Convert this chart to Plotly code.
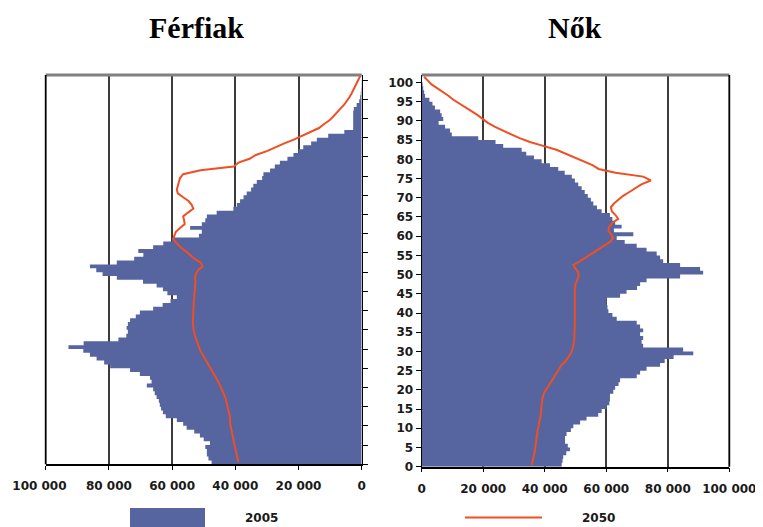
import plotly.graph_objects as go

# ---------------- data (thousands of persons) ----------------
ages = list(range(101))            # 2005 values, one per single year of age
ages_2050 = list(range(102))       # 2050 line points

men_2005 = [47.5, 48.5, 49, 49, 49.5, 48, 50, 51.2, 53, 55.4,
            56.5, 58.5, 62, 62.9, 63.5, 63.9, 64.2, 64.9, 65.5, 66,
            68, 66.5, 67, 70.2, 73.3, 79.6, 81.5, 83.9, 86, 88.1,
            92.8, 88, 77, 74.5, 74, 74.4, 74, 73.3, 71.5, 70.2,
            66, 63, 60.5, 58.5, 61.5, 62.9, 64.9, 69.2, 77.5, 82,
            84, 86, 77.5, 72, 69.1, 70.7, 66, 62.8, 60, 51.5,
            50.6, 54.3, 50.6, 49.5, 49, 45.9, 40.6, 39.5, 38.5, 37.4,
            36.4, 35, 34.3, 33.2, 31.5, 31.1, 29, 27.5, 25.9, 23.5,
            21.6, 20, 18.5, 16, 14.2, 10.6, 5.5, 2.7, 2.7, 2.7,
            2.7, 2.7, 2.5, 1.6, 0.8, 0.5, 0.3, 0.2, 0.1, 0.1,
            0]

men_2050 = [39, 39.3, 39.6, 40, 40.1, 40.4, 40.6, 40.9, 41.2, 41.4,
            41.6, 41.7, 41.7, 42, 42.3, 42.5, 42.7, 43.2, 43.8, 44.2,
            44.8, 45.4, 46, 46.8, 47.5, 48.2, 48.8, 49.6, 50.4, 51,
            51.5, 52, 52.4, 52.8, 53.1, 53.3, 53.4, 53.4, 53.4, 53.3,
            53.3, 53.2, 53.1, 53, 52.9, 52.8, 52.7, 52.6, 52.8, 52.5,
            51.8, 50.4, 51, 53, 54.3, 56, 57.3, 58.5, 59.6, 59.3,
            58.8, 57.5, 56, 56.2, 56.5, 55, 53.3, 53.8, 54.8, 56.5,
            58.2, 58.5, 58.2, 57.8, 57.5, 56.5, 51, 40.5, 39, 35.5,
            33.5, 30, 27.5, 24.5, 21.5, 19, 16, 13.5, 12, 10.2,
            9, 8, 6.8, 5.6, 4.7, 3.9, 3.2, 2.6, 2, 1.4,
            0.7, 0.2]

women_2005 = [45.5, 45.8, 46, 47, 48.2, 47.5, 46.6, 46.6, 47.1, 48.5,
              49.3, 51.5, 53.6, 57.4, 58.5, 60.1, 61, 61.2, 61.2, 62.3,
              62.9, 64, 64.5, 69.9, 71, 73.1, 77.5, 79, 81.9, 88.3,
              85, 72, 71.5, 72, 71, 72, 71, 69.9, 63.4, 62,
              60.7, 60.4, 60.1, 60.1, 64.5, 66.6, 70, 71, 73.1, 84,
              91.5, 90.5, 84, 78.5, 77.5, 76.4, 73.1, 69.9, 66, 63.4,
              68.8, 62.5, 65, 62.9, 62, 61.2, 58.5, 57, 55.8, 55,
              54, 53, 52, 50.9, 49.8, 48.8, 46.5, 44.4, 41.7, 39,
              36.5, 34, 32.5, 26.5, 24, 18.4, 9.8, 9.2, 7.6, 5.5,
              7, 6.5, 6, 4.3, 3.5, 2.5, 1.1, 0.8, 0.5, 0.3,
              0.1]

women_2050 = [35.8, 36.1, 36.4, 36.7, 36.9, 37, 37.1, 37.3, 37.5, 37.7,
              38, 38.2, 38.5, 38.7, 38.8, 38.9, 39, 39.2, 39.5, 40,
              40.8, 41.6, 42.5, 43.3, 44, 44.7, 45.5, 46.8, 47.8, 48.5,
              49, 49.3, 49.5, 49.6, 49.7, 49.8, 49.8, 49.8, 49.8, 49.8,
              49.8, 49.8, 49.7, 49.7, 49.6, 49.7, 49.8, 50, 50.5, 51,
              50.9, 50, 49.3, 51.5, 53.5, 55.5, 57.5, 59.5, 61.2, 62.3,
              61.5, 60.7, 61, 62, 63.9, 63, 61.8, 61.5, 62.5, 64,
              65.5, 67.5, 69.5, 71.4, 74.5, 72, 63, 57.5, 55.5, 52.7,
              49.5, 46.6, 43.8, 39.5, 35.2, 31.8, 29, 26.3, 23.7, 21.5,
              19.9, 18.2, 16.3, 14.2, 12, 10.3, 8.8, 7, 5, 3.2,
              2, 0.8]

x_tickvals = [0, 20000, 40000, 60000, 80000, 100000]
x_ticktext = ["0", "20 000", "40 000", "60 000", "80 000", "100 000"]
age_tickvals = list(range(0, 101, 5))
age_ticktext = [str(a) for a in age_tickvals]

titles = ["Férfiak", "Nők"]
legend_labels = ["2005", "2050"]

# ---------------- styles ----------------
BLUE = "#56659f"
RED = "#f04e23"
OFF = 8                       # page body margin added by the html page
W, H = 763 - OFF, 527 - OFF
TICKFONT = dict(family="DejaVu Sans", size=12, color="#1a1a1a", weight="bold")
NBSP = "\u00a0"


def px_x(p):
    return (p - OFF) / W


def px_y(p):
    return 1 - (p - OFF) / H


def step_trace(values, xa, ya, name):
    # one filled step outline per single-year age band [a, a+1]
    ys = ages + [ages[-1] + 1]
    xs = [v * 1000 for v in values] + [values[-1] * 1000]
    return go.Scatter(x=xs, y=ys, mode="lines", line=dict(color=BLUE, width=0, shape="vh"),
                      fill="tozerox", fillcolor=BLUE, xaxis=xa, yaxis=ya,
                      showlegend=False, name=name, hoverinfo="skip")


fig = go.Figure()

# Men (left panel)
fig.add_trace(step_trace(men_2005, "x", "y", legend_labels[0]))
fig.add_trace(go.Scatter(
    y=[a + 0.5 for a in ages_2050], x=[v * 1000 for v in men_2050],
    mode="lines", line=dict(color=RED, width=2),
    xaxis="x", yaxis="y", showlegend=False, name=legend_labels[1]))

# Women (right panel)
fig.add_trace(step_trace(women_2005, "x2", "y2", legend_labels[0]))
fig.add_trace(go.Scatter(
    y=[a + 0.5 for a in ages_2050], x=[v * 1000 for v in women_2050],
    mode="lines", line=dict(color=RED, width=2),
    xaxis="x2", yaxis="y2", showlegend=False, name=legend_labels[1]))

common_x = dict(
    tickvals=x_tickvals, showgrid=True,
    gridcolor="#3c3c3c", gridwidth=1.5, zeroline=False,
    showline=True, linecolor="black", linewidth=1.5,
    ticks="outside", ticklen=4, tickcolor="black", tickwidth=1.2,
    tickfont=TICKFONT, ticklabelstandoff=6, automargin=False, fixedrange=True)

common_y = dict(
    tickvals=age_tickvals, ticktext=age_ticktext, showgrid=False,
    zeroline=False, showline=True, linecolor="black", linewidth=1.2,
    ticks="outside", ticklen=5, tickcolor="black", tickwidth=1.2,
    tickfont=TICKFONT, automargin=False, fixedrange=True)

# left panel: outermost label sits a little inside the page edge
left_ticktext = x_ticktext[:-1] + [x_ticktext[-1] + NBSP * 3]

fig.update_layout(
    width=W, height=H,
    margin=dict(l=0, r=0, t=0, b=0),
    paper_bgcolor="white", plot_bgcolor="white",
    xaxis=dict(domain=[px_x(45.7), px_x(361.7)], range=[100000, 0],
               anchor="y", ticktext=left_ticktext, **common_x),
    yaxis=dict(domain=[px_y(464.3), px_y(75)], range=[0, 101.3],
               side="right", anchor="x", showticklabels=False, **common_y),
    xaxis2=dict(domain=[px_x(421.7), px_x(729.3)], range=[0, 100000],
                anchor="y2", ticktext=x_ticktext, **common_x),
    yaxis2=dict(domain=[px_y(466.7), px_y(75)], range=[0, 101.95],
                side="left", anchor="x2", showticklabels=True, **common_y),
)

# panel borders (top grey, outer side black)
shapes = []
for xr, yr, outer in (("x domain", "y domain", 0), ("x2 domain", "y2 domain", 1)):
    shapes.append(dict(type="line", xref=xr, yref=yr, x0=0, x1=1, y0=1, y1=1,
                       line=dict(color="#808080", width=3)))
    shapes.append(dict(type="line", xref=xr, yref=yr, x0=outer, x1=outer, y0=0, y1=1,
                       line=dict(color="black", width=1.8)))

# legend swatches
shapes.append(dict(type="rect", xref="paper", yref="paper",
                   x0=px_x(130), x1=px_x(205), y0=px_y(540), y1=px_y(508),
                   fillcolor=BLUE, line=dict(width=0)))
shapes.append(dict(type="line", xref="paper", yref="paper",
                   x0=px_x(465), x1=px_x(542), y0=px_y(517.5), y1=px_y(517.5),
                   line=dict(color=RED, width=2)))
fig.update_layout(shapes=shapes)

annotations = [
    dict(text=titles[0], x=px_x(196), y=px_y(27), xref="paper", yref="paper",
         showarrow=False, xanchor="center", yanchor="middle",
         font=dict(family="Liberation Serif", size=30, color="black", weight="bold")),
    dict(text=titles[1], x=px_x(575), y=px_y(27), xref="paper", yref="paper",
         showarrow=False, xanchor="center", yanchor="middle",
         font=dict(family="Liberation Serif", size=30, color="black", weight="bold")),
    dict(text=legend_labels[0], x=px_x(261), y=px_y(518), xref="paper", yref="paper",
         showarrow=False, xanchor="center", yanchor="middle", font=TICKFONT),
    dict(text=legend_labels[1], x=px_x(598), y=px_y(518), xref="paper", yref="paper",
         showarrow=False, xanchor="center", yanchor="middle", font=TICKFONT),
]
fig.update_layout(annotations=annotations)

fig.write_html("out.html")
